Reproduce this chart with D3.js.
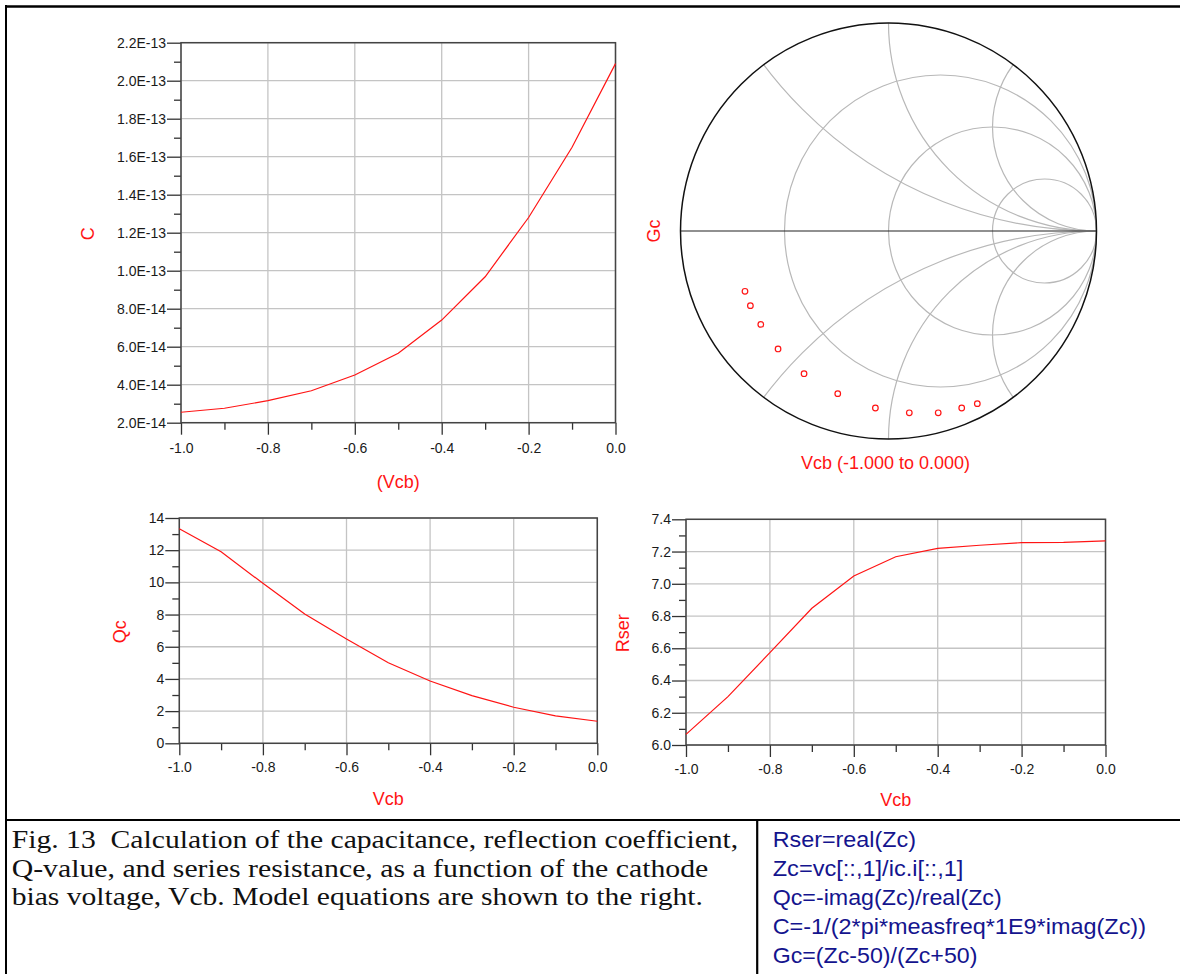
<!DOCTYPE html>
<html>
<head>
<meta charset="utf-8">
<script src="https://cdn.jsdelivr.net/npm/d3@7"></script>
<style>
  body { margin: 0; background: #fff; }
</style>
</head>
<body>
<div id="chart"></div>
<script>
// ---- data ----
let vcb = [-1.0, -0.9, -0.8, -0.7, -0.6, -0.5, -0.4, -0.3, -0.2, -0.1, 0.0];
let capValues = [2.55e-14, 2.76e-14, 3.16e-14, 3.68e-14, 4.51e-14, 5.65e-14, 7.4e-14, 9.68e-14, 1.28e-13, 1.65e-13, 2.09e-13];
let qcValues = [13.33, 11.9, 9.94, 8.03, 6.48, 5.01, 3.87, 2.96, 2.24, 1.70, 1.37];
let rserValues = [6.066, 6.30, 6.573, 6.848, 7.048, 7.168, 7.22, 7.239, 7.255, 7.257, 7.266];
let gcReal = [0.427, 0.352, 0.239, 0.100, -0.063, -0.244, -0.406, -0.531, -0.614, -0.664, -0.690];
let gcImag = [-0.830, -0.851, -0.874, -0.874, -0.851, -0.782, -0.686, -0.567, -0.449, -0.359, -0.290];

let vcbTicks = [-1.0, -0.8, -0.6, -0.4, -0.2, 0.0];
let vcbMinor = [-0.9, -0.7, -0.5, -0.3, -0.1];
let capTicks = [2e-14, 4e-14, 6e-14, 8e-14, 1e-13, 1.2e-13, 1.4e-13, 1.6e-13, 1.8e-13, 2e-13, 2.2e-13];
let capMinor = [3e-14, 5e-14, 7e-14, 9e-14, 1.1e-13, 1.3e-13, 1.5e-13, 1.7e-13, 1.9e-13, 2.1e-13];
let qcTicks = [0, 2, 4, 6, 8, 10, 12, 14];
let qcMinor = [1, 3, 5, 7, 9, 11, 13];
let rserTicks = [6.0, 6.2, 6.4, 6.6, 6.8, 7.0, 7.2, 7.4];
let rserMinor = [6.1, 6.3, 6.5, 6.7, 6.9, 7.1, 7.3];

// smith chart grid: resistance circles and reactance arcs
let smithR = [1 / 3, 1, 3];
let smithX = [0.5, 1, 2, -0.5, -1, -2];

let captionLines = [
  "Fig. 13  Calculation of the capacitance, reflection coefficient,",
  "Q-value, and series resistance, as a function of the cathode",
  "bias voltage, Vcb. Model equations are shown to the right."
];
let equations = [
  "Rser=real(Zc)",
  "Zc=vc[::,1]/ic.i[::,1]",
  "Qc=-imag(Zc)/real(Zc)",
  "C=-1/(2*pi*measfreq*1E9*imag(Zc))",
  "Gc=(Zc-50)/(Zc+50)"
];

let red = "#ff1414";
let gridColor = "#c4c4c4";
let sans = "Liberation Sans, Arial, sans-serif";

let svg = d3.select("#chart").append("svg")
    .attr("width", 1180)
    .attr("height", 974)
    .attr("font-family", sans);

function drawPlot(p) {
    let x = d3.scaleLinear().domain([-1, 0]).range([p.left, p.right]);
    let y = d3.scaleLinear().domain(p.domain).range([p.bottom, p.top]);
    let g = svg.append("g");

    // grid
    g.selectAll(".vgrid").data(vcbTicks).enter().append("line")
        .attr("x1", d => x(d)).attr("x2", d => x(d))
        .attr("y1", p.top).attr("y2", p.bottom)
        .attr("stroke", gridColor).attr("stroke-width", 1.3);
    g.selectAll(".hgrid").data(p.ticks).enter().append("line")
        .attr("x1", p.left).attr("x2", p.right)
        .attr("y1", d => y(d)).attr("y2", d => y(d))
        .attr("stroke", gridColor).attr("stroke-width", 1.3);

    // ticks
    let styleAxis = function(a) {
        a.select(".domain").remove();
        a.attr("font-size", 14)
         .attr("font-family", sans)
         .attr("color", "#333");
        a.selectAll("text").attr("fill", "#1a1a1a");
        a.selectAll("line").attr("stroke-width", 1.3);
    };
    g.append("g").attr("transform", `translate(${p.left},0)`)
        .call(d3.axisLeft(y).tickValues(p.minor).tickSize(7).tickSizeOuter(0).tickFormat(""))
        .call(styleAxis);
    g.append("g").attr("transform", `translate(${p.left},0)`)
        .call(d3.axisLeft(y).tickValues(p.ticks).tickSize(14).tickPadding(1).tickSizeOuter(0).tickFormat(p.fmt))
        .call(styleAxis);
    g.append("g").attr("transform", `translate(0,${p.bottom})`)
        .call(d3.axisBottom(x).tickValues(vcbMinor).tickSize(7).tickSizeOuter(0).tickFormat(""))
        .call(styleAxis);
    g.append("g").attr("transform", `translate(0,${p.bottom})`)
        .call(d3.axisBottom(x).tickValues(vcbTicks).tickSize(12).tickPadding(p.xPad).tickSizeOuter(0)
            .tickFormat(d => d.toFixed(1)))
        .call(styleAxis);

    // frame
    g.append("rect")
        .attr("x", p.left).attr("y", p.top)
        .attr("width", p.right - p.left).attr("height", p.bottom - p.top)
        .attr("fill", "none").attr("stroke", "#444").attr("stroke-width", 1.5);

    // curve
    let line = d3.line().x((d, i) => x(vcb[i])).y(d => y(d));
    g.append("path").datum(p.values)
        .attr("d", line)
        .attr("fill", "none").attr("stroke", red).attr("stroke-width", 1.2);

    // axis titles
    g.append("text")
        .attr("transform", `translate(${p.yLabelX},${(p.top + p.bottom) / 2 + 1}) rotate(-90)`)
        .attr("text-anchor", "middle").attr("dominant-baseline", "central")
        .attr("font-size", 18).attr("fill", red)
        .text(p.yLabel);
    g.append("text")
        .attr("x", (p.left + p.right) / 2).attr("y", p.xLabelY)
        .attr("text-anchor", "middle").attr("dominant-baseline", "central")
        .attr("font-size", 18).attr("fill", red)
        .text(p.xLabel);
}

drawPlot({left: 181, right: 615.5, top: 42.7, bottom: 422.7, domain: [2e-14, 2.2e-13],
    ticks: capTicks, minor: capMinor, values: capValues,
    fmt: d => d.toExponential(1).replace("e", "E"), xPad: 8,
    yLabel: "C", yLabelX: 87.5, xLabel: "(Vcb)", xLabelY: 481.7});

drawPlot({left: 179.3, right: 597.3, top: 518, bottom: 743.3, domain: [0, 14],
    ticks: qcTicks, minor: qcMinor, values: qcValues,
    fmt: d => String(d), xPad: 7,
    yLabel: "Qc", yLabelX: 120, xLabel: "Vcb", xLabelY: 799});

drawPlot({left: 686, right: 1105.5, top: 519.3, bottom: 745, domain: [6.0, 7.4],
    ticks: rserTicks, minor: rserMinor, values: rserValues,
    fmt: d => d.toFixed(1), xPad: 7,
    yLabel: "Rser", yLabelX: 623, xLabel: "Vcb", xLabelY: 800});

// ---- smith chart ----
let cx = 888.5, cy = 231, R = 208;
let sx = d3.scaleLinear().domain([-1, 1]).range([cx - R, cx + R]);
let sy = d3.scaleLinear().domain([-1, 1]).range([cy + R, cy - R]);
let smith = svg.append("g");

smith.append("clipPath").attr("id", "unit")
    .append("circle").attr("cx", sx(0)).attr("cy", sy(0)).attr("r", sx(1) - sx(0));

let grid = smith.append("g").attr("clip-path", "url(#unit)");
grid.selectAll(".rcirc").data(smithR).enter().append("circle")
    .attr("cx", d => sx(d / (1 + d)))
    .attr("cy", sy(0))
    .attr("r", d => sx(1 / (1 + d)) - sx(0))
    .attr("fill", "none").attr("stroke", "#b8b8b8").attr("stroke-width", 1.2);
grid.selectAll(".xarc").data(smithX).enter().append("circle")
    .attr("cx", sx(1))
    .attr("cy", d => sy(1 / d))
    .attr("r", d => sx(1 / Math.abs(d)) - sx(0))
    .attr("fill", "none").attr("stroke", "#b8b8b8").attr("stroke-width", 1.2);

smith.append("line")
    .attr("x1", sx(-1)).attr("x2", sx(1)).attr("y1", sy(0)).attr("y2", sy(0))
    .attr("stroke", "#222").attr("stroke-width", 1.2);
smith.append("circle")
    .attr("cx", sx(0)).attr("cy", sy(0)).attr("r", sx(1) - sx(0))
    .attr("fill", "none").attr("stroke", "#111").attr("stroke-width", 1.5);

smith.selectAll(".gpt").data(gcReal).enter().append("circle")
    .attr("cx", d => sx(d))
    .attr("cy", (d, i) => sy(gcImag[i]))
    .attr("r", 2.8)
    .attr("fill", "none").attr("stroke", red).attr("stroke-width", 1.2);

smith.append("text")
    .attr("transform", `translate(653.5,${cy}) rotate(-90)`)
    .attr("text-anchor", "middle").attr("dominant-baseline", "central")
    .attr("font-size", 18).attr("fill", red)
    .text("Gc");
smith.append("text")
    .attr("x", 885.5).attr("y", 463.3)
    .attr("text-anchor", "middle").attr("dominant-baseline", "central")
    .attr("font-size", 18).attr("fill", red)
    .text("Vcb (-1.000 to 0.000)");

// ---- table frame and caption ----
let frame = svg.append("g").attr("stroke", "#000");
frame.append("line").attr("x1", 6).attr("x2", 6).attr("y1", 5).attr("y2", 974).attr("stroke-width", 2);
frame.append("line").attr("x1", 5).attr("x2", 1180).attr("y1", 6.5).attr("y2", 6.5).attr("stroke-width", 2.5);
frame.append("line").attr("x1", 5).attr("x2", 1180).attr("y1", 820).attr("y2", 820).attr("stroke-width", 2);
frame.append("line").attr("x1", 757.2).attr("x2", 757.2).attr("y1", 820).attr("y2", 974).attr("stroke-width", 2.2);

let captionWidths = [726.6, 696.6, 691.3];
svg.selectAll(".cap").data(captionLines).enter().append("text")
    .attr("x", 11.7)
    .attr("y", (d, i) => 848 + i * 28.5)
    .style("font-family", "'Liberation Serif', 'Times New Roman', serif")
    .attr("font-size", 25)
    .attr("fill", "#111")
    .style("white-space", "pre")
    .attr("textLength", (d, i) => captionWidths[i])
    .attr("lengthAdjust", "spacingAndGlyphs")
    .text(d => d);

let eqWidths = [143.3, 190.7, 229, 373.3, 204.7];
svg.selectAll(".eq").data(equations).enter().append("text")
    .attr("x", 772.7)
    .attr("y", (d, i) => 847 + i * 29)
    .attr("font-size", 22)
    .attr("fill", "#14148e")
    .attr("textLength", (d, i) => eqWidths[i])
    .attr("lengthAdjust", "spacingAndGlyphs")
    .text(d => d);
</script>
</body>
</html>
